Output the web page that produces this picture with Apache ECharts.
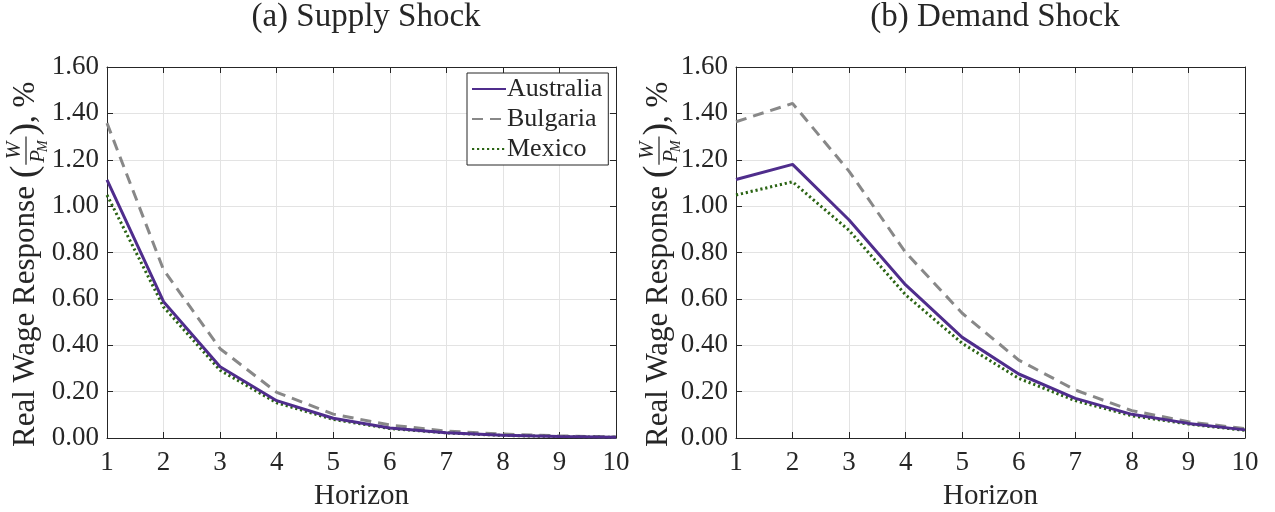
<!DOCTYPE html>
<html>
<head>
<meta charset="utf-8">
<script src="https://cdn.jsdelivr.net/npm/echarts@6/dist/echarts.min.js"></script>
<style>
  html, body { margin: 0; padding: 0; background: #fff; }
  #chart { width: 1275px; height: 512px; }
</style>
</head>
<body>
<div id="chart"></div>
<script>
const horizons = [1, 2, 3, 4, 5, 6, 7, 8, 9, 10];
const countries = ['Australia', 'Bulgaria', 'Mexico'];

// (a) supply shock
const supplyAustralia = [1.113, 0.588, 0.307, 0.161, 0.085, 0.043, 0.023, 0.012, 0.006, 0.003];
const supplyBulgaria  = [1.358, 0.725, 0.385, 0.197, 0.103, 0.056, 0.030, 0.017, 0.009, 0.004];
const supplyMexico    = [1.048, 0.565, 0.292, 0.152, 0.080, 0.041, 0.022, 0.011, 0.006, 0.003];

// (b) demand shock
const demandAustralia = [1.115, 1.180, 0.940, 0.660, 0.434, 0.276, 0.171, 0.102, 0.063, 0.035];
const demandBulgaria  = [1.364, 1.443, 1.150, 0.800, 0.538, 0.336, 0.207, 0.118, 0.070, 0.040];
const demandMexico    = [1.048, 1.105, 0.895, 0.617, 0.408, 0.257, 0.161, 0.096, 0.060, 0.033];

const FONT = '"Liberation Serif", "DejaVu Serif", serif';
const INK = '#262626';
const colors = { Australia: '#4f2d8c', Bulgaria: '#888888', Mexico: '#2b6414' };
const lineTypes = { Australia: 'solid', Bulgaria: [11, 7], Mexico: [2.2, 2.8] };

const grids = [
  { left: 107, right: 659, top: 67, bottom: 74, outerBoundsMode: 'none' },
  { left: 736, right: 30, top: 67, bottom: 74, outerBoundsMode: 'none' }
];

const chart = echarts.init(document.getElementById('chart'), null, { renderer: 'canvas' });

function xAxes(g) {
  return [
    {
      type: 'value', gridIndex: g, min: 1, max: 10, interval: 1,
      name: 'Horizon', nameLocation: 'middle', nameGap: 44,
      nameTextStyle: { fontFamily: FONT, fontSize: 29, color: INK },
      axisLine: { show: true, onZero: false, lineStyle: { color: INK, width: 1 } },
      axisTick: { show: true, inside: true, length: 6, lineStyle: { color: INK } },
      axisLabel: { fontFamily: FONT, fontSize: 27, color: INK, margin: 11 },
      splitLine: { show: true, lineStyle: { color: '#e3e3e3', width: 1 } }
    },
    {
      type: 'value', gridIndex: g, min: 1, max: 10, interval: 1, position: 'top',
      axisLine: { show: true, onZero: false, lineStyle: { color: INK, width: 1 } },
      axisTick: { show: true, inside: true, length: 6, lineStyle: { color: INK } },
      axisLabel: { show: false },
      splitLine: { show: false }
    }
  ];
}

function yAxes(g) {
  return [
    {
      type: 'value', gridIndex: g, min: 0, max: 1.6, interval: 0.2,
      axisLine: { show: true, onZero: false, lineStyle: { color: INK, width: 1 } },
      axisTick: { show: true, inside: true, length: 6, lineStyle: { color: INK } },
      axisLabel: { fontFamily: FONT, fontSize: 27, color: INK, margin: 8, formatter: v => v.toFixed(2) },
      splitLine: { show: true, lineStyle: { color: '#e3e3e3', width: 1 } }
    },
    {
      type: 'value', gridIndex: g, min: 0, max: 1.6, interval: 0.2, position: 'right',
      axisLine: { show: true, onZero: false, lineStyle: { color: INK, width: 1 } },
      axisTick: { show: true, inside: true, length: 6, lineStyle: { color: INK } },
      axisLabel: { show: false },
      splitLine: { show: false }
    }
  ];
}

function makeSeries(name, values, g) {
  return {
    name: name,
    type: 'line',
    xAxisIndex: g * 2,
    yAxisIndex: g * 2,
    symbol: 'none',
    data: horizons.map((h, i) => [h, values[i]]),
    lineStyle: { color: colors[name], width: 3, type: lineTypes[name] },
    itemStyle: { color: colors[name] },
    z: name === 'Australia' ? 3 : 2
  };
}

// rotated y-axis label with a stacked W / P_M fraction
const measureCtx = document.createElement('canvas').getContext('2d');
function textW(str, size) {
  measureCtx.font = size + 'px ' + FONT;
  return measureCtx.measureText(str).width;
}

function yLabel(cx, startY) {
  const fs = 31;
  const children = [];
  let x = 0;
  const put = (str, size, dy) => {
    children.push({
      type: 'text', x: x, y: dy,
      style: { text: str, fontFamily: FONT, fontSize: size, fill: INK, verticalAlign: 'middle', align: 'left' }
    });
    x += textW(str, size);
  };
  put('Real Wage Response ', fs, 0);
  put('(', 38, 0);
  const fracStart = x + 1;
  const wW = textW('W', 21);
  const pW = textW('P', 21) + textW('M', 14);
  const fracW = Math.max(wW, pW) + 4;
  children.push({ type: 'text', x: fracStart + fracW / 2, y: -12, style: { text: 'W', fontFamily: FONT, fontStyle: 'italic', fontSize: 21, fill: INK, align: 'center', verticalAlign: 'middle' } });
  children.push({ type: 'line', shape: { x1: fracStart, y1: 0, x2: fracStart + fracW, y2: 0 }, style: { stroke: INK, lineWidth: 1.2 } });
  children.push({ type: 'text', x: fracStart + (fracW - pW) / 2, y: 12, style: { text: 'P', fontFamily: FONT, fontStyle: 'italic', fontSize: 21, fill: INK, align: 'left', verticalAlign: 'middle' } });
  children.push({ type: 'text', x: fracStart + (fracW - pW) / 2 + textW('P', 21) - 1, y: 17, style: { text: 'M', fontFamily: FONT, fontStyle: 'italic', fontSize: 14, fill: INK, align: 'left', verticalAlign: 'middle' } });
  x = fracStart + fracW + 1;
  put(')', 38, 0);
  put(', %', fs, 0);
  return { type: 'group', x: cx, y: startY, rotation: Math.PI / 2, children: children };
}

const series = [];
countries.forEach(c => {
  const sup = { Australia: supplyAustralia, Bulgaria: supplyBulgaria, Mexico: supplyMexico }[c];
  series.push(makeSeries(c, sup, 0));
});
countries.forEach(c => {
  const dem = { Australia: demandAustralia, Bulgaria: demandBulgaria, Mexico: demandMexico }[c];
  series.push(makeSeries(c, dem, 1));
});

chart.setOption({
  backgroundColor: '#ffffff',
  animation: false,
  title: [
    { text: '(a) Supply Shock', left: 361, top: -4, textAlign: 'center', textStyle: { fontFamily: FONT, fontSize: 33, fontWeight: 'normal', color: INK } },
    { text: '(b) Demand Shock', left: 990, top: -4, textAlign: 'center', textStyle: { fontFamily: FONT, fontSize: 33, fontWeight: 'normal', color: INK } }
  ],
  grid: grids,
  xAxis: [...xAxes(0), ...xAxes(1)],
  yAxis: [...yAxes(0), ...yAxes(1)],
  legend: {
    data: countries,
    left: 467, top: 73,
    orient: 'vertical',
    backgroundColor: '#ffffff',
    borderColor: INK, borderWidth: 1,
    padding: [3, 6, 3, 4],
    itemWidth: 34, itemHeight: 14, itemGap: 4,
    itemStyle: { opacity: 0 },
    textStyle: { fontFamily: FONT, fontSize: 26, color: INK, padding: [0, 0, 0, -4] }
  },
  graphic: [yLabel(26, 447), yLabel(659, 447)],
  series: series
});
</script>
</body>
</html>
